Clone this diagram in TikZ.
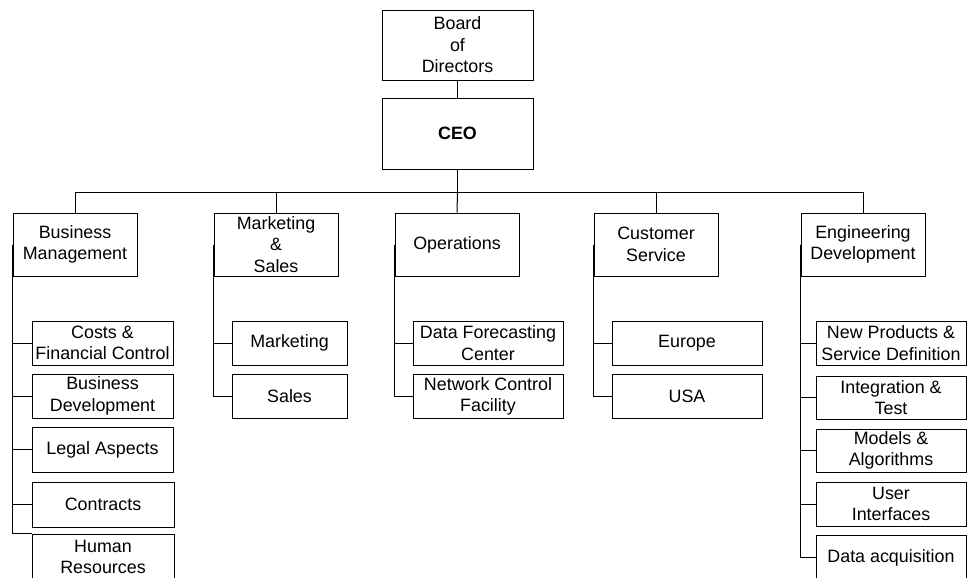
\documentclass[tikz,border=0pt]{standalone}
\usepackage{fontspec}
\setmainfont{Liberation Sans}
\begin{document}
\begin{tikzpicture}[x=0.75pt,y=-0.75pt,
  every node/.style={font=\fontsize{13.4}{16.2}\selectfont},
  box/.style 2 args={draw=black, line width=0.75pt, rectangle, align=center, inner sep=0pt,
     minimum width=#1*0.75pt, minimum height=#2*0.75pt},
  conn/.style={draw=black, line width=0.75pt}]
\useasboundingbox (0,0) rectangle (967,578);
\clip (0,0) rectangle (967,578);
% top
\node[box={151}{70}] (board) at (457.5,45) {Board\\of\\Directors};
\node[box={151}{71}] (ceo) at (457.5,133.5) {\textbf{CEO}};
% departments
\node[box={124}{63}] (bm) at (75,244.5) {Business\\Management};
\node[box={124}{63}] (ms) at (276,244.5) {Marketing\\\&\\Sales};
\node[box={124}{63}] (ops) at (457,244.5) {Operations};
\node[box={124}{63}] (cs) at (656,244.5) {Customer\\Service};
\node[box={124}{63}] (ed) at (863,244.5) {Engineering\\Development};
% business management children
\node[box={141}{44}] (costs) at (102.5,343) {Costs \&\\Financial Control};
\node[box={141}{44}] (bd) at (102.5,396) {Business\\Development};
\node[box={141}{45}] (legal) at (102.5,449.5) {Legal Aspects};
\node[box={142}{45}] (contr) at (103,504.5) {Contracts};
\node[box={142}{46}] (hr) at (103,557) {Human\\Resources};
% marketing children
\node[box={115}{44}] (mkt) at (289.5,343) {Marketing};
\node[box={115}{44}] (sales) at (289.5,396) {Sales};
% operations children
\node[box={150}{44}] (dfc) at (488,343) {Data Forecasting\\Center};
\node[box={150}{44}] (ncf) at (488,396.5) {Network Control\\Facility};
% customer service children
\node[box={150}{44}] (eur) at (687,343) {Europe};
\node[box={150}{44}] (usa) at (687,396) {USA};
% engineering children
\node[box={150}{44}] (np) at (891,343) {New Products \&\\Service Definition};
\node[box={150}{43}] (it) at (891,397.5) {Integration \&\\Test};
\node[box={150}{43}] (mod) at (891,450.5) {Models \&\\Algorithms};
\node[box={150}{44}] (ui) at (891,504) {User\\Interfaces};
\node[box={150}{45}] (da) at (891,557.5) {Data acquisition};
% connectors top
\coordinate (bus) at (457.5,192);
\draw[conn] (board) -- (ceo);
\draw[conn] (ceo.south) -- (bus);
\draw[conn] (bus) -| (bm.north);
\draw[conn] (bus) -| (ms.north);
\draw[conn] (bus) -- (ops.north);
\draw[conn] (bus) -| (cs.north);
\draw[conn] (bus) -| (ed.north);
% spines
\foreach \c in {costs,bd,legal,contr} \draw[conn] (bm.west) |- (\c.west);
\draw[conn] (bm.west) |- (hr.north west);
\foreach \c in {mkt,sales} \draw[conn] (ms.west) |- (\c.west);
\foreach \c in {dfc,ncf} \draw[conn] (ops.west) |- (\c.west);
\foreach \c in {eur,usa} \draw[conn] (cs.west) |- (\c.west);
\foreach \c in {np,it,mod,ui,da} \draw[conn] (ed.west) |- (\c.west);
\end{tikzpicture}
\end{document}
